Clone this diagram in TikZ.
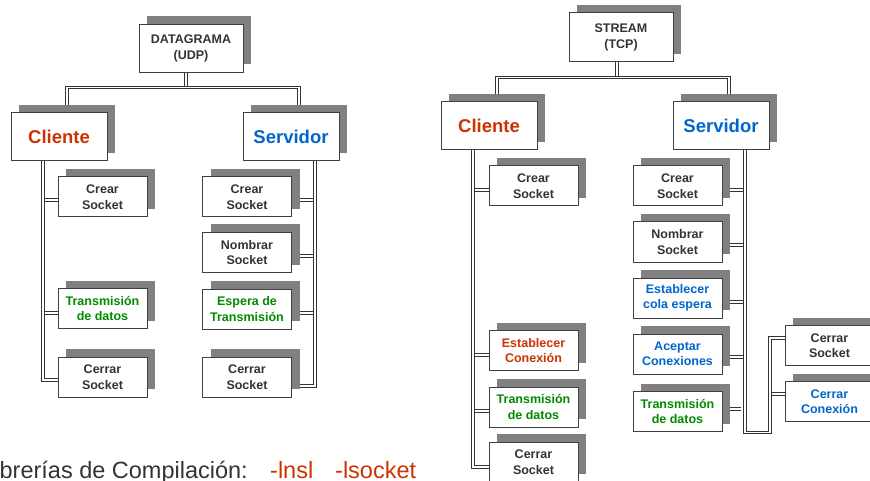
\documentclass[tikz,border=0pt]{standalone}
\usepackage{fontspec}
\setmainfont{Liberation Sans}
\usetikzlibrary{shadows,calc,backgrounds}
\definecolor{txt}{HTML}{333333}
\definecolor{edge}{HTML}{404040}
\definecolor{shd}{HTML}{808080}
\definecolor{cred}{HTML}{CC3300}
\definecolor{cblue}{HTML}{0066CC}
\definecolor{cgreen}{HTML}{008A00}
\tikzset{
 box/.style={draw=edge, line width=1pt, fill=white, minimum width=89pt, minimum height=40pt,
   inner sep=0pt, align=center, text=txt, font=\bfseries\fontsize{12.5}{15.5}\selectfont,
   drop shadow={shadow xshift=8pt, shadow yshift=8pt, fill=shd, opacity=1}},
 bigbox/.style={box, minimum width=96pt, minimum height=48pt, font=\bfseries\fontsize{18.5}{22}\selectfont},
 topbox/.style={box, minimum width=104pt, minimum height=48pt},
 dline/.style={draw=txt, line width=0.9pt, double=white, double distance=1.5pt},
 libtext/.style={inner sep=0pt, font=\fontsize{23.5}{27}\selectfont},
}
\begin{document}
\begin{tikzpicture}[x=1pt,y=-1pt]
\useasboundingbox (0,0) rectangle (870,481);
\clip (0,0) rectangle (870,481);
% ---------- UDP tree ----------
\node[topbox] (dg) at (191,48.5) {DATAGRAMA\\(UDP)};
\node[bigbox, text=cred] (lc) at (59,137) {Cliente};
\node[bigbox, text=cblue] (ls) at (291,137) {Servidor};
\node[box] (lc1) at (102.5,197) {Crear\\Socket};
\node[box, text=cgreen] (lc2) at (102.5,308.5) {Transmisión\\de datos};
\node[box] (lc3) at (102.5,377) {Cerrar\\Socket};
\node[box] (ls1) at (247,197) {Crear\\Socket};
\node[box] (ls2) at (247,252.5) {Nombrar\\Socket};
\node[box, text=cgreen] (ls3) at (247,309) {Espera de\\Transmisión};
\node[box] (ls4) at (247,377) {Cerrar\\Socket};
% ---------- TCP tree ----------
\node[topbox, minimum height=49pt] (st) at (621,37.5) {STREAM\\(TCP)};
\node[bigbox, text=cred] (rc) at (489,126) {Cliente};
\node[bigbox, text=cblue] (rs) at (721,126) {Servidor};
\node[box] (rc1) at (533.5,186) {Crear\\Socket};
\node[box, text=cred] (rc2) at (533.5,350.5) {Establecer\\Conexión};
\node[box, text=cgreen] (rc3) at (533.5,407) {Transmisión\\de datos};
\node[box] (rc4) at (533.5,462) {Cerrar\\Socket};
\node[box] (rs1) at (677.5,186) {Crear\\Socket};
\node[box] (rs2) at (677.5,242) {Nombrar\\Socket};
\node[box, text=cblue] (rs3) at (677.5,298) {Establecer\\cola espera};
\node[box, text=cblue] (rs4) at (677.5,354) {Aceptar\\Conexiones};
\node[box, text=cgreen] (rs5) at (677.5,411.5) {Transmisión\\de datos};
\node[box] (rs6) at (829.5,345.5) {Cerrar\\Socket};
\node[box, text=cblue] (rs7) at (829.5,401.5) {Cerrar\\Conexión};
% ---------- bottom text ----------
\node[libtext, anchor=base east, text=txt] (lib) at (248,478) {Librerías de Compilación:};
\node[libtext, anchor=base west, text=cred] (nsl) at (270,478) {-lnsl};
\node[libtext, anchor=base west, text=cred] (sock) at (335,478) {-lsocket};
% ---------- connectors ----------
\begin{scope}[on background layer]
 % UDP
 \draw[dline] ([xshift=-5pt]dg.south) -- ++(0,16);
 \draw[dline] ([xshift=8pt]lc.north) -- ++(0,-25) -| ([xshift=8pt]ls.north);
 \draw[dline] ([yshift=-3pt]lc1.west) -- ++(-15,0);
 \draw[dline] ([yshift=-4.5pt]lc2.west) -- ++(-15,0);
 \draw[dline] ([xshift=-16pt]lc.south) |- ([yshift=-3pt]lc3.west);
 \draw[dline] ([yshift=-3pt]ls1.east) -- ++(24,0);
 \draw[dline] ([yshift=-3.5pt]ls2.east) -- ++(24,0);
 \draw[dline] ([yshift=-4pt]ls3.east) -- ++(24,0);
 \draw[dline] ([xshift=24pt]ls.south) |- ([yshift=-9pt]ls4.east);
 % TCP
 \draw[dline] ([xshift=-4pt]st.south) -- ++(0,16);
 \draw[dline] ([xshift=8pt]rc.north) -- ++(0,-24) -| ([xshift=8pt]rs.north);
 \draw[dline] ([yshift=-4pt]rc1.west) -- ++(-16,0);
 \draw[dline] ([yshift=-4.5pt]rc2.west) -- ++(-16,0);
 \draw[dline] ([yshift=-4pt]rc3.west) -- ++(-16,0);
 \draw[dline] ([xshift=-16pt]rc.south) |- ([yshift=-5pt]rc4.west);
 \draw[dline] ([yshift=-4pt]rs1.east) -- ++(23,0);
 \draw[dline] ([yshift=-3pt]rs2.east) -- ++(23,0);
 \draw[dline] ([yshift=-4pt]rs3.east) -- ++(23,0);
 \draw[dline] ([yshift=-3pt]rs4.east) -- ++(23,0);
 \draw[dline] ([yshift=2.5pt]rs5.east) -- ++(18,0);
 \draw[dline] ([yshift=7.5pt]rs7.west) -- ++(-15,0);
 \draw[dline] ([xshift=24pt]rs.south) -- ++(0,282) -- ++(25,0) |- ([yshift=7.5pt]rs6.west);
\end{scope}
\end{tikzpicture}
\end{document}
